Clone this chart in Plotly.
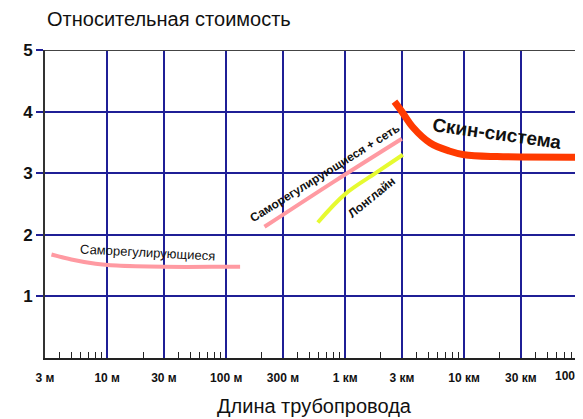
import numpy as np
import plotly.graph_objects as go

# ---- data ----
self_reg_x = [3.4, 5, 8, 12, 30, 100, 131]
self_reg_y = [1.68, 1.60, 1.53, 1.50, 1.48, 1.48, 1.48]

self_reg_net_x = [210, 800, 3000]
self_reg_net_y = [2.13, 2.86, 3.56]

longline_x = [590, 1000, 1800, 3060]
longline_y = [2.20, 2.66, 3.00, 3.30]

skin_x = [2600, 3000, 3700, 5200, 7500, 10000, 19000, 100000]
skin_y = [4.16, 4.00, 3.75, 3.49, 3.36, 3.30, 3.27, 3.26]

x_tickvals = [3, 10, 30, 100, 300, 1000, 3000, 10000, 30000]
x_ticktext = ["3 м", "10 м", "30 м", "100 м", "300 м", "1 км", "3 км", "10 км", "30 км"]
x_minor = [4, 5, 6, 7, 8, 9, 20, 40, 50, 60, 70, 80, 90, 200, 400, 500, 600, 700, 800, 900,
           2000, 4000, 5000, 6000, 7000, 8000, 9000, 20000, 40000, 50000, 60000, 70000, 80000, 90000]
y_tickvals = [1, 2, 3, 4, 5]

FONT = "Liberation Sans, Arial, sans-serif"
GRID = "#1f1f96"
L = np.log10

fig = go.Figure()
fig.add_trace(go.Scatter(x=self_reg_x, y=self_reg_y, mode="lines",
                         line=dict(color="#ff9aa2", width=4, shape="spline"), hoverinfo="skip"))
fig.add_trace(go.Scatter(x=self_reg_net_x, y=self_reg_net_y, mode="lines",
                         line=dict(color="#ff9aa2", width=4, shape="spline"), hoverinfo="skip"))
fig.add_trace(go.Scatter(x=longline_x, y=longline_y, mode="lines",
                         line=dict(color="#e6fa30", width=4, shape="spline"), hoverinfo="skip"))
fig.add_trace(go.Scatter(x=skin_x, y=skin_y, mode="lines",
                         line=dict(color="#ff3a00", width=7, shape="spline"), hoverinfo="skip"))

annotations = [
    dict(x=L(21.8), y=1.71, text="Саморегулирующиеся", textangle=3,
         font=dict(size=13, family=FONT, color="#111")),
    dict(x=L(676), y=3.0, text="<b>Саморегулирующиеся + сеть</b>", textangle=-32,
         font=dict(size=12, family=FONT, color="#111")),
    dict(x=L(1680), y=2.62, text="<b>Лонглайн</b>", textangle=-39,
         font=dict(size=12, family=FONT, color="#111")),
    dict(x=L(18900), y=3.64, text="<b>Скин-система</b>", textangle=8,
         font=dict(size=19, family=FONT, color="#111")),
    dict(x=L(100000), y=0, text="<b>100</b>", xanchor="right", yanchor="top",
         xshift=-6, yshift=-9, font=dict(size=12, family=FONT, color="#111")),
    dict(x=0, xref="paper", y=1, yref="paper", xanchor="left", yanchor="bottom", yshift=18,
         text="Относительная стоимость", font=dict(size=20, family=FONT, color="#111")),
    dict(x=0.5, xref="paper", y=0, yref="paper", xanchor="center", yanchor="middle", yshift=-48,
         text="Длина трубопровода", font=dict(size=20, family=FONT, color="#111")),
]
for a in annotations:
    a.setdefault("showarrow", False)
    a.setdefault("xref", "x")
    a.setdefault("yref", "y")

# the page body adds an 8px margin, so the figure is sized and offset to fit the window
fig.update_layout(
    width=575, height=411,
    margin=dict(l=37, r=0, t=42, b=61),
    paper_bgcolor="white", plot_bgcolor="white",
    showlegend=False,
    annotations=annotations,
    xaxis=dict(type="log", range=[L(3), L(100000)],
               tickvals=x_tickvals, ticktext=[f"<b>{t}</b>" for t in x_ticktext],
               tickfont=dict(size=12, family=FONT, color="#111"),
               ticks="", ticklabelstandoff=8,
               showgrid=True, gridcolor=GRID, gridwidth=2,
               showline=True, linecolor="#222", linewidth=2,
               minor=dict(tickvals=x_minor, ticks="inside", ticklen=6, tickwidth=1,
                          tickcolor="#222", showgrid=False),
               zeroline=False),
    yaxis=dict(range=[0, 5], tickvals=y_tickvals,
               ticktext=[f"<b>{v}</b>" for v in y_tickvals],
               tickfont=dict(size=17, family=FONT, color="#111"),
               ticks="outside", ticklen=7, tickcolor=GRID, tickwidth=2,
               showgrid=True, gridcolor=GRID, gridwidth=2,
               showline=True, linecolor="#333", linewidth=2, zeroline=False),
    shapes=[dict(type="line", xref="paper", yref="y", x0=0, x1=1, y0=5, y1=5,
                 line=dict(color="#444", width=2), layer="above")],
)

fig.write_html("out.html")
